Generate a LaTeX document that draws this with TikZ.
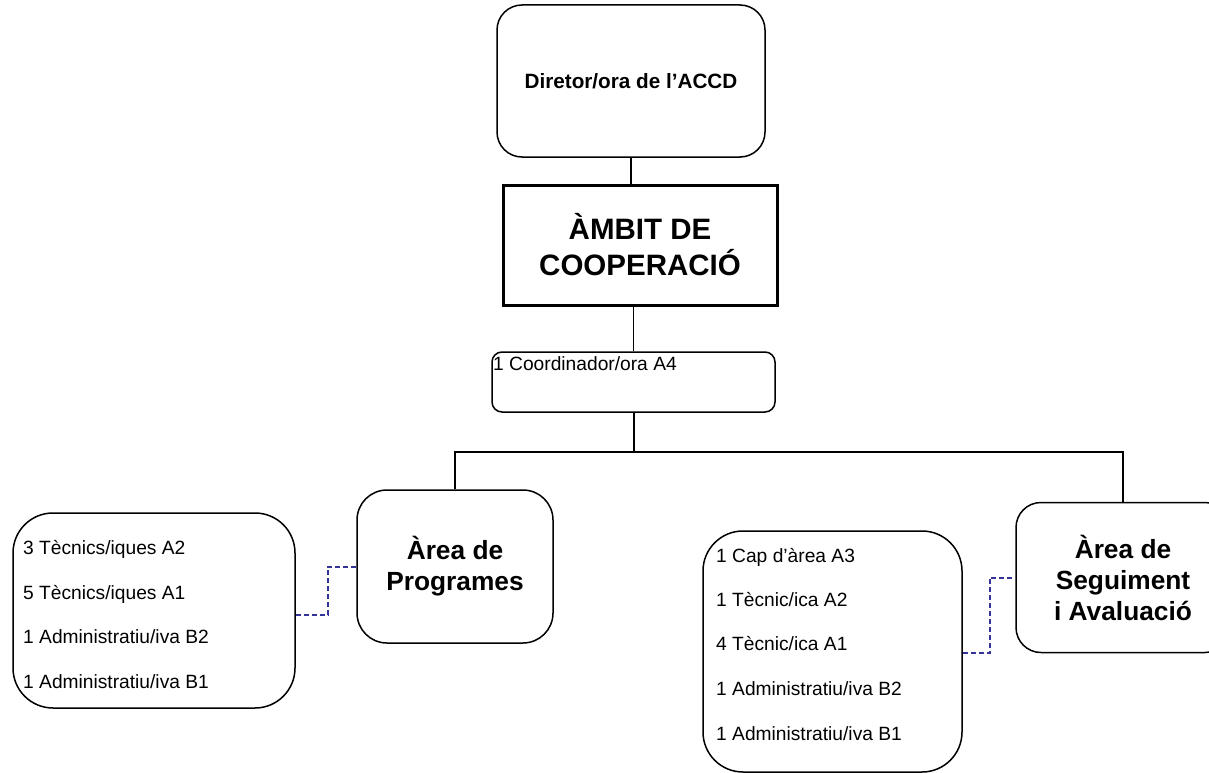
\documentclass[tikz,border=0pt]{standalone}
\usepackage{fontspec}
\setmainfont{Liberation Sans}
\usetikzlibrary{calc}
\definecolor{dashblue}{RGB}{51,51,153}
\tikzset{
  box/.style={draw=black, line width=1.5pt, fill=white, inner sep=0pt},
  conn/.style={draw=black, line width=1.5pt},
  dashline/.style={draw=dashblue, line width=2pt, dash pattern=on 5pt off 3pt},
  item/.style={inner sep=0pt, anchor=base west, font=\fontsize{19.2}{22}\selectfont},
  areatext/.style={align=center, font=\bfseries\fontsize{26.3}{31}\selectfont}
}
\begin{document}
\begin{tikzpicture}[x=1pt,y=-1pt]
\useasboundingbox (0,0) rectangle (1209,773);

% top boxes
\node[box, rounded corners=25pt, minimum width=268pt, minimum height=152pt,
      font=\bfseries\fontsize{20.7}{24}\selectfont] (dir) at (631,81) {Diretor/ora de l’ACCD};
\node[box, line width=3pt, minimum width=274pt, minimum height=120pt, align=center,
      font=\bfseries\fontsize{29.5}{36}\selectfont] (amb) at (640,245) {ÀMBIT DE\\COOPERACIÓ};
\node[box, rounded corners=10pt, minimum width=283pt, minimum height=60pt] (coord) at (633.5,382) {};
\node[item] (coordt) at (493,370) {1 Coordinador/ora A4};

% area boxes
\node[box, rounded corners=30pt, minimum width=196pt, minimum height=153pt, areatext] (prog) at (455,566.5) {Àrea de\\Programes};
\node[box, rounded corners=25pt, minimum width=214pt, minimum height=150pt, areatext] (seg) at (1123,577.5) {Àrea de\\Seguiment\\i Avaluació};

% list boxes
\node[box, rounded corners=40pt, minimum width=282pt, minimum height=195pt] (llist) at (154,610.5) {};
\node[item] (l1) at (23,554) {3 Tècnics/iques A2};
\node[item] (l2) at (23,599) {5 Tècnics/iques A1};
\node[item] (l3) at (23,643) {1 Administratiu/iva B2};
\node[item] (l4) at (23,688) {1 Administratiu/iva B1};

\node[box, rounded corners=40pt, minimum width=259pt, minimum height=241pt] (rlist) at (832.5,651.5) {};
\node[item] (r1) at (716,562) {1 Cap d’àrea A3};
\node[item] (r2) at (716,606) {1 Tècnic/ica A2};
\node[item] (r3) at (716,650) {4 Tècnic/ica A1};
\node[item] (r4) at (716,695) {1 Administratiu/iva B2};
\node[item] (r5) at (716,740) {1 Administratiu/iva B1};

% connectors
\draw[conn] (dir.south) -- (dir.south |- amb.north);
\draw[conn] (amb.south -| coord.south) -- (coord.north);
\coordinate (j) at (633.5,452);
\draw[conn, line width=2pt] (coord.south) -- (j) -| (prog.north);
\draw[conn] (j) -| (seg.north);

% dashed connectors
\draw[dashline] ([yshift=-4.5pt]llist.east) -- ++(32,0) |- (prog.west);
\draw[dashline] ([yshift=-1.5pt]rlist.east) -- ++(27,0) |- (seg.west);
\end{tikzpicture}
\end{document}
